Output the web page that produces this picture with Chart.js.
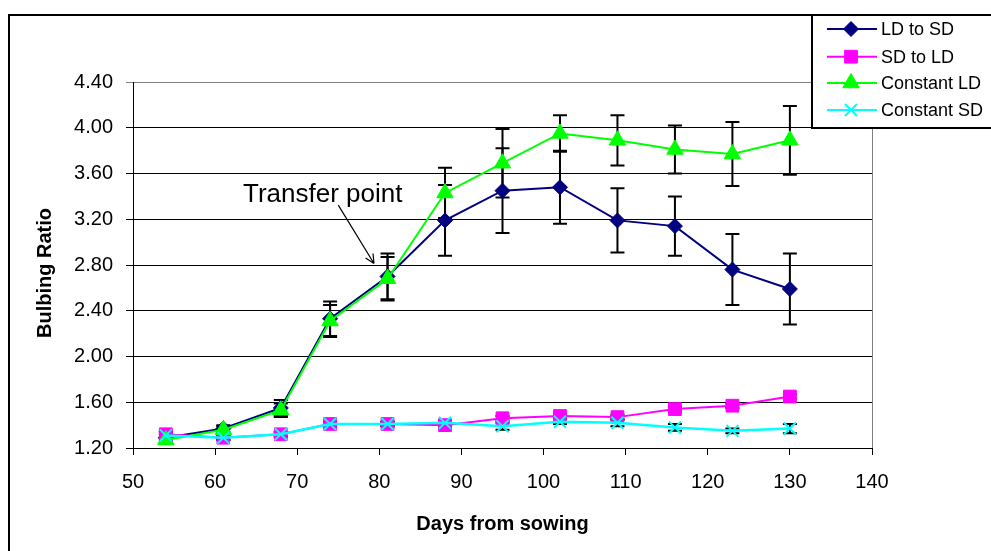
<!DOCTYPE html>
<html>
<head>
<meta charset="utf-8">
<title>Bulbing Ratio</title>
<script src="https://cdn.jsdelivr.net/npm/chart.js@4.4.1/dist/chart.umd.min.js"></script>
<style>
    html, body { margin: 0; padding: 0; background: #ffffff; }
    #wrap { width: 991px; height: 551px; }
</style>
</head>
<body>
<div id="wrap"><canvas id="bulbChart" width="991" height="551"></canvas></div>
<script>
// Days from sowing (x values)
const days = [54, 61, 68, 74, 81, 88, 95, 102, 109, 116, 123, 130];

// Series values and error bar half-lengths
const ldToSd     = [1.29, 1.37, 1.55, 2.33, 2.70, 3.19, 3.45, 3.48, 3.19, 3.14, 2.76, 2.59];
const ldToSdErr  = [0.03, 0.03, 0.07, 0.15, 0.20, 0.31, 0.37, 0.32, 0.28, 0.26, 0.31, 0.31];
const sdToLd     = [1.32, 1.29, 1.32, 1.41, 1.41, 1.40, 1.46, 1.48, 1.47, 1.54, 1.57, 1.65];
const sdToLdErr  = [0.03, 0.02, 0.02, 0.02, 0.02, 0.02, 0.02, 0.02, 0.02, 0.02, 0.02, 0.02];
const constLd    = [1.27, 1.36, 1.53, 2.31, 2.68, 3.43, 3.69, 3.95, 3.89, 3.81, 3.77, 3.89];
const constLdErr = [0.03, 0.03, 0.06, 0.14, 0.19, 0.22, 0.30, 0.16, 0.22, 0.21, 0.28, 0.30];
const constSd    = [1.31, 1.29, 1.32, 1.41, 1.41, 1.42, 1.39, 1.43, 1.42, 1.38, 1.35, 1.37];
const constSdErr = [0.03, 0.02, 0.02, 0.02, 0.02, 0.02, 0.03, 0.02, 0.03, 0.03, 0.02, 0.04];

const seriesNames = ['LD to SD', 'SD to LD', 'Constant LD', 'Constant SD'];

// Axis settings
const xMin = 50, xMax = 140, xStep = 10;
const yMin = 1.2, yMax = 4.4, yStep = 0.4;
const yTitle = 'Bulbing Ratio';

// "Transfer point" note, in data units
const noteText = 'Transfer point';
const noteAt = { x: 63.4, y: 3.353 };
const arrowFrom = { x: 75.0, y: 3.324 };
const arrowTo = { x: 79.35, y: 2.813 };

const FONT = '"Liberation Sans", Arial, Helvetica, sans-serif';

function toPoints(values) {
    return days.map((d, i) => ({ x: d, y: values[i] }));
}

function makeSet(label, values, errors, color, style, radius, order, width) {
    return {
        label: label,
        data: toPoints(values),
        errors: errors,
        borderColor: color,
        backgroundColor: color,
        borderWidth: width,
        pointStyle: style,
        pointRadius: radius,
        pointHoverRadius: radius,
        pointBackgroundColor: color,
        pointBorderColor: color,
        pointBorderWidth: style === 'crossRot' ? 2 : 1,
        tension: 0,
        fill: false,
        clip: false,
        order: order
    };
}

const datasets = [
    makeSet(seriesNames[0], ldToSd, ldToSdErr, '#000080', 'rectRot', 7.5, 4, 2),
    makeSet(seriesNames[1], sdToLd, sdToLdErr, '#ff00ff', 'rect', 9, 3, 2),
    makeSet(seriesNames[2], constLd, constLdErr, '#00ff00', 'triangle', 9.5, 2, 2),
    makeSet(seriesNames[3], constSd, constSdErr, '#00ffff', 'crossRot', 8.5, 1, 2.5)
];

function drawMarker(ctx, ds, x, y) {
    ctx.save();
    ctx.fillStyle = ds.pointBackgroundColor;
    ctx.strokeStyle = ds.pointBorderColor;
    ctx.lineWidth = ds.pointBorderWidth;
    if (Chart.helpers && Chart.helpers.drawPoint) {
        Chart.helpers.drawPoint(ctx, {
            pointStyle: ds.pointStyle,
            radius: ds.pointRadius,
            rotation: 0,
            borderWidth: ds.pointBorderWidth
        }, x, y);
    }
    ctx.restore();
}

// white page + outer chart frame + y title
const pageFrame = {
    id: 'pageFrame',
    beforeDraw(chart) {
        const ctx = chart.ctx;
        ctx.save();
        ctx.fillStyle = '#ffffff';
        ctx.fillRect(0, 0, chart.width, chart.height);
        ctx.strokeStyle = '#000000';
        ctx.lineWidth = 2;
        ctx.strokeRect(9, 15, chart.width + 20, chart.height + 20);
        ctx.restore();
    },
    afterDraw(chart) {
        const ctx = chart.ctx;
        ctx.save();
        ctx.translate(45, 273);
        ctx.rotate(-Math.PI / 2);
        ctx.fillStyle = '#000000';
        ctx.font = 'bold 20px ' + FONT;
        ctx.textAlign = 'center';
        ctx.textBaseline = 'middle';
        ctx.fillText(yTitle, 0, 0);
        ctx.restore();
    },
    beforeDatasetsDraw(chart) {
        // right edge of the plot area
        const a = chart.chartArea;
        const ctx = chart.ctx;
        ctx.save();
        ctx.strokeStyle = '#808080';
        ctx.lineWidth = 1;
        ctx.beginPath();
        ctx.moveTo(Math.round(a.right) + 0.5, a.top);
        ctx.lineTo(Math.round(a.right) + 0.5, a.bottom);
        ctx.stroke();
        ctx.restore();
    }
};

// error bars sit under the markers
const errorBars = {
    id: 'errorBars',
    beforeDatasetsDraw(chart) {
        const ctx = chart.ctx;
        const yScale = chart.scales.y;
        const cap = 7;
        ctx.save();
        ctx.strokeStyle = '#000000';
        ctx.lineWidth = 2;
        chart.data.datasets.forEach((ds, i) => {
            const meta = chart.getDatasetMeta(i);
            meta.data.forEach((pt, j) => {
                const v = ds.data[j].y;
                const e = ds.errors[j];
                const top = yScale.getPixelForValue(v + e);
                const bottom = yScale.getPixelForValue(v - e);
                ctx.beginPath();
                ctx.moveTo(pt.x, top);
                ctx.lineTo(pt.x, bottom);
                ctx.moveTo(pt.x - cap, top);
                ctx.lineTo(pt.x + cap, top);
                ctx.moveTo(pt.x - cap, bottom);
                ctx.lineTo(pt.x + cap, bottom);
                ctx.stroke();
            });
        });
        ctx.restore();
    }
};

const transferNote = {
    id: 'transferNote',
    afterDatasetsDraw(chart) {
        const ctx = chart.ctx;
        const xs = chart.scales.x, ys = chart.scales.y;
        const tx = xs.getPixelForValue(noteAt.x), ty = ys.getPixelForValue(noteAt.y);
        const x1 = xs.getPixelForValue(arrowFrom.x), y1 = ys.getPixelForValue(arrowFrom.y);
        const x2 = xs.getPixelForValue(arrowTo.x), y2 = ys.getPixelForValue(arrowTo.y);
        ctx.save();
        ctx.fillStyle = '#000000';
        ctx.font = '26px ' + FONT;
        ctx.textAlign = 'left';
        ctx.textBaseline = 'alphabetic';
        ctx.fillText(noteText, tx, ty);

        ctx.strokeStyle = '#000000';
        ctx.lineWidth = 1.2;
        ctx.beginPath();
        ctx.moveTo(x1, y1);
        ctx.lineTo(x2, y2);
        // open arrow head
        const ang = Math.atan2(y2 - y1, x2 - x1);
        const head = 10;
        ctx.moveTo(x2, y2);
        ctx.lineTo(x2 - head * Math.cos(ang - 0.45), y2 - head * Math.sin(ang - 0.45));
        ctx.moveTo(x2, y2);
        ctx.lineTo(x2 - head * Math.cos(ang + 0.45), y2 - head * Math.sin(ang + 0.45));
        ctx.stroke();
        ctx.restore();
    }
};

// boxed legend in the top right corner
const boxLegend = {
    id: 'boxLegend',
    afterDraw(chart) {
        const ctx = chart.ctx;
        const left = 812, top = 15, bottom = 128;
        const rows = [29, 56.7, 83, 110];
        ctx.save();
        ctx.fillStyle = '#ffffff';
        ctx.fillRect(left, top, chart.width - left + 10, bottom - top);
        ctx.strokeStyle = '#000000';
        ctx.lineWidth = 2;
        ctx.strokeRect(left, top, chart.width - left + 10, bottom - top);
        ctx.font = '18px ' + FONT;
        ctx.textAlign = 'left';
        ctx.textBaseline = 'middle';
        chart.data.datasets.forEach((ds, i) => {
            const y = rows[i];
            ctx.strokeStyle = ds.borderColor;
            ctx.lineWidth = 2;
            ctx.beginPath();
            ctx.moveTo(827, y);
            ctx.lineTo(877, y);
            ctx.stroke();
            drawMarker(ctx, ds, 851, y);
            ctx.fillStyle = '#000000';
            ctx.fillText(ds.label, 881, y + 1);
        });
        ctx.restore();
    }
};

const ctx = document.getElementById('bulbChart').getContext('2d');
const bulbChart = new Chart(ctx, {
    type: 'line',
    data: { datasets: datasets },
    options: {
        responsive: false,
        animation: false,
        devicePixelRatio: 1,
        layout: { padding: { top: 82, right: 119, bottom: 0, left: 0 } },
        plugins: {
            legend: { display: false },
            tooltip: { enabled: false }
        },
        scales: {
            x: {
                type: 'linear',
                min: xMin,
                max: xMax,
                afterFit: (scale) => { scale.height = 103; },
                ticks: {
                    stepSize: xStep,
                    color: '#000000',
                    padding: 15,
                    maxRotation: 0,
                    font: { family: FONT, size: 20 }
                },
                grid: {
                    drawOnChartArea: false,
                    drawTicks: true,
                    tickLength: 7,
                    tickColor: '#000000',
                    color: '#000000'
                },
                border: { color: '#000000', width: 1 },
                title: {
                    display: true,
                    text: 'Days from sowing',
                    color: '#000000',
                    padding: { top: 0, bottom: 15 },
                    font: { family: FONT, size: 20, weight: 'bold' }
                }
            },
            y: {
                type: 'linear',
                min: yMin,
                max: yMax,
                afterFit: (scale) => { scale.width = 133; },
                ticks: {
                    stepSize: yStep,
                    color: '#000000',
                    padding: 13,
                    font: { family: FONT, size: 20 },
                    callback: (v) => Number(v).toFixed(2)
                },
                grid: {
                    color: (c) => (c.tick && Math.abs(c.tick.value - yMax) < 1e-6) ? '#808080' : '#000000',
                    lineWidth: 1,
                    drawTicks: true,
                    tickLength: 7
                },
                border: { color: '#000000', width: 1 },
                title: { display: false }
            }
        }
    },
    plugins: [pageFrame, errorBars, transferNote, boxLegend]
});
</script>
</body>
</html>
